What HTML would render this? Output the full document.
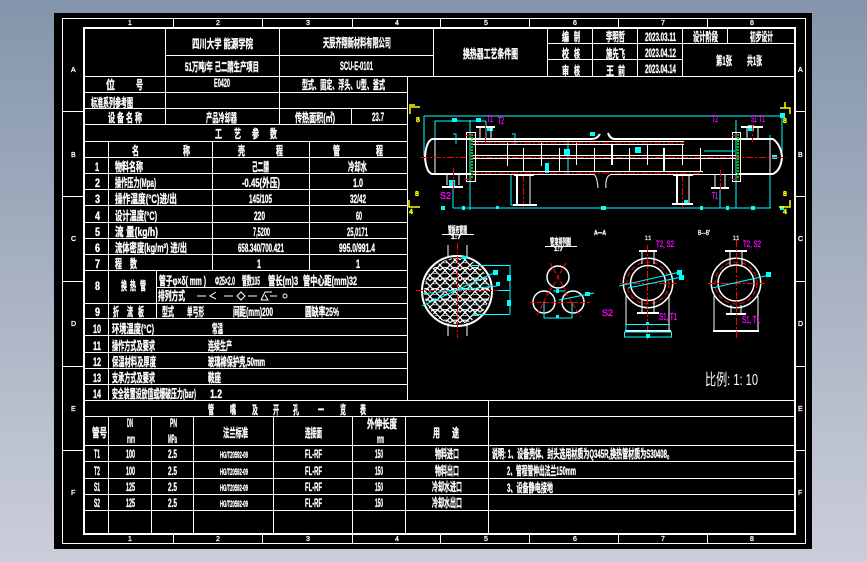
<!DOCTYPE html>
<html lang="zh"><head><meta charset="utf-8"><title>换热器工艺条件图</title>
<style>
html,body{margin:0;padding:0;width:867px;height:562px;overflow:hidden;background:#8a99ad}
svg{display:block}
text{font-family:"Liberation Sans","Noto Sans CJK SC",sans-serif;font-weight:700;fill:#fff;font-size:12px;stroke:#fff;stroke-width:.35}
.m text{fill:#f0f;stroke:#f0f;font-size:10px;font-weight:400}
.y text{fill:#ff0;stroke:#ff0;font-size:7px}
.s text{font-size:7px;font-weight:400}
.g{fill:none;stroke:#fff;stroke-width:1;shape-rendering:crispEdges}
.c{fill:none;stroke:#0ff;stroke-width:1}
.w{fill:none;stroke:#fff;stroke-width:1}
.r{fill:none;stroke:#f00;stroke-width:1;stroke-dasharray:7 2 2 2}
.gr{fill:none;stroke:#0c0;stroke-width:2;stroke-dasharray:2 1}
</style></head><body>
<svg width="867" height="562" viewBox="0 0 867 562" xmlns="http://www.w3.org/2000/svg">
<defs>
<linearGradient id="bg" x1="0" y1="0" x2="0" y2="1"><stop offset="0" stop-color="#8495ab"/><stop offset="1" stop-color="#cbced9"/></linearGradient>
<pattern id="hex" width="10" height="10.5" patternUnits="userSpaceOnUse"><path d="M2.5 0L7.5 0L10 2.6L7.5 5.2L2.5 5.2L0 2.6Z M0 2.6L-2.5 5.2 M2.5 5.2L5 7.8L2.5 10.5 M7.5 5.2L5 7.8 M5 7.8L7.5 10.5 M0 7.8L2.5 5.2 M10 7.8L7.5 5.2" fill="none" stroke="#fff" stroke-width="1.2"/></pattern>
<clipPath id="cp"><circle cx="457" cy="291" r="33"/></clipPath>
</defs>
<rect width="867" height="562" fill="url(#bg)"/>
<rect x="54" y="13" width="758" height="536" fill="#000"/>
<rect x="62.5" y="18.5" width="743" height="525" class="g"/>
<rect x="84" y="28" width="711" height="506" fill="none" stroke="#fff" stroke-width="2" style="shape-rendering:crispEdges"/>
<!-- frame ticks -->
<path class="g" d="M173.500 18V27M262.500 18V27M352.500 18V27M440.500 18V27M529.500 18V27M618.500 18V27M707.500 18V27M173.500 534V543M262.500 534V543M352.500 534V543M440.500 534V543M529.500 534V543M618.500 534V543M707.500 534V543M62 111.500H83M62 196.500H83M62 281.500H83M62 366.500H83M62 450.500H83M796 111.500H805M796 196.500H805M796 281.500H805M796 366.500H805M796 450.500H805"/>
<g class="s">
<text x="128" y="25">1</text><text x="216" y="25">2</text><text x="306" y="25">3</text><text x="395" y="25">4</text><text x="484" y="25">5</text><text x="573" y="25">6</text><text x="661" y="25">7</text><text x="750" y="25">8</text>
<text x="128" y="541">1</text><text x="216" y="541">2</text><text x="306" y="541">3</text><text x="395" y="541">4</text><text x="484" y="541">5</text><text x="573" y="541">6</text><text x="661" y="541">7</text><text x="750" y="541">8</text>
<text x="71" y="72">A</text><text x="71" y="157">B</text><text x="71" y="241">C</text><text x="71" y="326">D</text><text x="71" y="411">E</text><text x="71" y="495">F</text>
<text x="798" y="72">A</text><text x="798" y="157">B</text><text x="798" y="241">C</text><text x="798" y="326">D</text><text x="798" y="411">E</text><text x="798" y="495">F</text>
</g>
<!-- table grid -->
<path class="g" d="M85 76.500H795M165.500 28V124M279.500 28V124M433.500 28V76M165 55.500H433M547.500 28V76M592.500 28V76M637.500 28V76M682.500 28V76M727.500 28V43M547 43.500H795M547 59.500H682
M85 92.500H407M85 108.500H407M85 124.500H407M85 141.500H407M85 157.500H407M85 173.500H407M85 189.500H407M85 205.500H407M85 222.500H407M85 238.500H407M85 254.500H407M85 270.500H407M156 287.500H407M85 303.500H407M85 318.500H407M85 335.500H407M85 352.500H407M85 368.500H407M85 384.500H407M85 400.500H795
M407.500 76V400M351.500 108V124M108.500 141V400M212.500 141V270M309.500 141V270M156.500 270V318
M85 416.500H795M85 445.500H795M85 461.500H795M85 478.500H795M85 494.500H795M85 510.500H795
M108.500 416V534M151.500 416V534M193.500 416V534M273.500 416V534M352.500 416V534M405.500 416V534M488.500 400V534"/>
<!-- title block -->
<text x="192" y="48" textLength="61" lengthAdjust="spacingAndGlyphs">四川大学 能源学院</text>
<text x="323" y="47" textLength="68" lengthAdjust="spacingAndGlyphs">天辰齐翔新材料有限公司</text>
<text x="185" y="71" textLength="74" lengthAdjust="spacingAndGlyphs">51万吨/年 己二腈生产项目</text>
<text x="340" y="70" textLength="33" lengthAdjust="spacingAndGlyphs">SCU-E-0101</text>
<text x="463" y="58" textLength="55" lengthAdjust="spacingAndGlyphs">换热器工艺条件图</text>
<text x="562" y="41" textLength="7" lengthAdjust="spacingAndGlyphs">编</text><text x="574" y="41" textLength="6" lengthAdjust="spacingAndGlyphs">制</text>
<text x="606" y="41" textLength="19" lengthAdjust="spacingAndGlyphs">李明哲</text>
<text x="645" y="41" textLength="31" lengthAdjust="spacingAndGlyphs">2023.03.11</text>
<text x="693" y="41" textLength="25" lengthAdjust="spacingAndGlyphs">设计阶段</text>
<text x="750" y="41" textLength="23" lengthAdjust="spacingAndGlyphs">初步设计</text>
<text x="562" y="58" textLength="7" lengthAdjust="spacingAndGlyphs">校</text><text x="574" y="58" textLength="6" lengthAdjust="spacingAndGlyphs">核</text>
<text x="606" y="58" textLength="19" lengthAdjust="spacingAndGlyphs">施先飞</text>
<text x="645" y="57" textLength="31" lengthAdjust="spacingAndGlyphs">2023.04.12</text>
<text x="562" y="75" textLength="7" lengthAdjust="spacingAndGlyphs">审</text><text x="574" y="75" textLength="6" lengthAdjust="spacingAndGlyphs">核</text>
<text x="606" y="75" textLength="8" lengthAdjust="spacingAndGlyphs">王</text><text x="618" y="75" textLength="7" lengthAdjust="spacingAndGlyphs">前</text>
<text x="645" y="73" textLength="31" lengthAdjust="spacingAndGlyphs">2023.04.14</text>
<text x="716" y="65" textLength="16" lengthAdjust="spacingAndGlyphs">第1张</text>
<text x="747" y="65" textLength="15" lengthAdjust="spacingAndGlyphs">共1张</text>
<text x="106" y="89" textLength="9" lengthAdjust="spacingAndGlyphs">位</text><text x="136" y="89" textLength="7" lengthAdjust="spacingAndGlyphs">号</text>
<text x="214" y="87" textLength="16" lengthAdjust="spacingAndGlyphs">E0420</text>
<text x="302" y="89" textLength="83" lengthAdjust="spacingAndGlyphs">型式、固定、浮头、U型、釜式</text>
<text x="91" y="107" textLength="42" lengthAdjust="spacingAndGlyphs">标准系列参考图</text>
<text x="108" y="122" textLength="7" lengthAdjust="spacingAndGlyphs">设</text><text x="117" y="122" textLength="7" lengthAdjust="spacingAndGlyphs">备</text><text x="126" y="122" textLength="7" lengthAdjust="spacingAndGlyphs">名</text><text x="135" y="122" textLength="7" lengthAdjust="spacingAndGlyphs">称</text>
<text x="206" y="122" textLength="31" lengthAdjust="spacingAndGlyphs">产品冷却器</text>
<text x="295" y="122" textLength="40" lengthAdjust="spacingAndGlyphs">传热面积(㎡)</text>
<text x="372" y="121" textLength="12" lengthAdjust="spacingAndGlyphs">23.7</text>
<text x="215" y="138" textLength="7" lengthAdjust="spacingAndGlyphs">工</text><text x="234" y="138" textLength="7" lengthAdjust="spacingAndGlyphs">艺</text><text x="252" y="138" textLength="7" lengthAdjust="spacingAndGlyphs">参</text><text x="270" y="138" textLength="7" lengthAdjust="spacingAndGlyphs">数</text>
<text x="132" y="155" textLength="7" lengthAdjust="spacingAndGlyphs">名</text><text x="183" y="155" textLength="7" lengthAdjust="spacingAndGlyphs">称</text>
<text x="238" y="155" textLength="7" lengthAdjust="spacingAndGlyphs">壳</text><text x="276" y="155" textLength="7" lengthAdjust="spacingAndGlyphs">程</text>
<text x="333" y="155" textLength="7" lengthAdjust="spacingAndGlyphs">管</text><text x="376" y="155" textLength="7" lengthAdjust="spacingAndGlyphs">程</text>
<!-- rows 1-7 -->
<g>
<text x="95" y="171" textLength="4" lengthAdjust="spacingAndGlyphs">1</text><text x="95" y="187" textLength="5" lengthAdjust="spacingAndGlyphs">2</text><text x="95" y="203" textLength="5" lengthAdjust="spacingAndGlyphs">3</text><text x="95" y="220" textLength="5" lengthAdjust="spacingAndGlyphs">4</text><text x="95" y="236" textLength="5" lengthAdjust="spacingAndGlyphs">5</text><text x="95" y="252" textLength="5" lengthAdjust="spacingAndGlyphs">6</text><text x="95" y="268" textLength="5" lengthAdjust="spacingAndGlyphs">7</text>
<text x="95" y="290" textLength="5" lengthAdjust="spacingAndGlyphs">8</text><text x="95" y="316" textLength="5" lengthAdjust="spacingAndGlyphs">9</text>
<text x="93" y="333" textLength="8" lengthAdjust="spacingAndGlyphs">10</text><text x="93" y="350" textLength="8" lengthAdjust="spacingAndGlyphs">11</text><text x="93" y="366" textLength="8" lengthAdjust="spacingAndGlyphs">12</text><text x="93" y="382" textLength="8" lengthAdjust="spacingAndGlyphs">13</text><text x="93" y="398" textLength="8" lengthAdjust="spacingAndGlyphs">14</text>
<text x="115" y="171" textLength="28" lengthAdjust="spacingAndGlyphs">物料名称</text>
<text x="115" y="187" textLength="41" lengthAdjust="spacingAndGlyphs">操作压力(Mpa)</text>
<text x="115" y="203" textLength="62" lengthAdjust="spacingAndGlyphs">操作温度(°C)进/出</text>
<text x="115" y="220" textLength="42" lengthAdjust="spacingAndGlyphs">设计温度(°C)</text>
<text x="115" y="236" textLength="43" lengthAdjust="spacingAndGlyphs">流 量(kg/h)</text>
<text x="115" y="252" textLength="72" lengthAdjust="spacingAndGlyphs">流体密度(kg/m³) 进/出</text>
<text x="115" y="268" textLength="7" lengthAdjust="spacingAndGlyphs">程</text><text x="130" y="268" textLength="7" lengthAdjust="spacingAndGlyphs">数</text>
<text x="252" y="171" textLength="17" lengthAdjust="spacingAndGlyphs">己二腈</text>
<text x="242" y="187" textLength="38" lengthAdjust="spacingAndGlyphs">-0.45(外压)</text>
<text x="249" y="203" textLength="23" lengthAdjust="spacingAndGlyphs">145/105</text>
<text x="254" y="220" textLength="11" lengthAdjust="spacingAndGlyphs">220</text>
<text x="253" y="236" textLength="17" lengthAdjust="spacingAndGlyphs">7,5200</text>
<text x="238" y="252" textLength="46" lengthAdjust="spacingAndGlyphs">658.340/700.421</text>
<text x="257" y="268" textLength="4" lengthAdjust="spacingAndGlyphs">1</text>
<text x="348" y="171" textLength="19" lengthAdjust="spacingAndGlyphs">冷却水</text>
<text x="353" y="187" textLength="10" lengthAdjust="spacingAndGlyphs">1.0</text>
<text x="350" y="203" textLength="16" lengthAdjust="spacingAndGlyphs">32/42</text>
<text x="356" y="220" textLength="6" lengthAdjust="spacingAndGlyphs">60</text>
<text x="347" y="236" textLength="21" lengthAdjust="spacingAndGlyphs">25,0171</text>
<text x="339" y="252" textLength="36" lengthAdjust="spacingAndGlyphs">995.0/991.4</text>
<text x="356" y="268" textLength="4" lengthAdjust="spacingAndGlyphs">1</text>
<!-- rows 8-14 -->
<text x="121" y="290" textLength="6" lengthAdjust="spacingAndGlyphs">换</text><text x="130" y="290" textLength="6" lengthAdjust="spacingAndGlyphs">热</text><text x="140" y="290" textLength="6" lengthAdjust="spacingAndGlyphs">管</text>
<text x="159" y="285" textLength="47" lengthAdjust="spacingAndGlyphs">管子φ×δ( mm )</text>
<text x="215" y="285" textLength="20" lengthAdjust="spacingAndGlyphs">Φ25×2.0</text>
<text x="242" y="285" textLength="18" lengthAdjust="spacingAndGlyphs">管数105</text>
<text x="268" y="285" textLength="30" lengthAdjust="spacingAndGlyphs">管长(m)3</text>
<text x="303" y="285" textLength="54" lengthAdjust="spacingAndGlyphs">管中心距(mm)32</text>
<text x="158" y="300" textLength="27" lengthAdjust="spacingAndGlyphs">排列方式</text>
<text x="113" y="316" textLength="6" lengthAdjust="spacingAndGlyphs">折</text><text x="127" y="316" textLength="6" lengthAdjust="spacingAndGlyphs">流</text><text x="138" y="316" textLength="6" lengthAdjust="spacingAndGlyphs">板</text>
<text x="162" y="316" textLength="12" lengthAdjust="spacingAndGlyphs">型式</text>
<text x="187" y="316" textLength="17" lengthAdjust="spacingAndGlyphs">单弓形</text>
<text x="233" y="316" textLength="40" lengthAdjust="spacingAndGlyphs">间距(mm)200</text>
<text x="305" y="316" textLength="34" lengthAdjust="spacingAndGlyphs">圆缺率25%</text>
<text x="112" y="333" textLength="42" lengthAdjust="spacingAndGlyphs">环境温度(°C)</text>
<text x="212" y="333" textLength="11" lengthAdjust="spacingAndGlyphs">常温</text>
<text x="112" y="350" textLength="43" lengthAdjust="spacingAndGlyphs">操作方式及要求</text>
<text x="208" y="350" textLength="24" lengthAdjust="spacingAndGlyphs">连续生产</text>
<text x="112" y="366" textLength="44" lengthAdjust="spacingAndGlyphs">保温材料及厚度</text>
<text x="208" y="366" textLength="57" lengthAdjust="spacingAndGlyphs">玻璃棉保护壳,50mm</text>
<text x="112" y="382" textLength="43" lengthAdjust="spacingAndGlyphs">支承方式及要求</text>
<text x="208" y="382" textLength="13" lengthAdjust="spacingAndGlyphs">鞍座</text>
<text x="112" y="398" textLength="84" lengthAdjust="spacingAndGlyphs">安全装置设放值或爆破压力(bar)</text>
<text x="210" y="398" textLength="12" lengthAdjust="spacingAndGlyphs">1.2</text>
</g>
<path class="w" d="M197 296H206M216 292L210 296L216 299M224 296H233M237 296L241 292L245 296L241 300ZM248 296H257M261 300L265 292L272 292M261 300H268L265 295M270 296H277"/>
<circle cx="285" cy="296" r="2" class="w"/>
<!-- nozzle table -->
<text x="208" y="414" textLength="6" lengthAdjust="spacingAndGlyphs">管</text><text x="230" y="414" textLength="6" lengthAdjust="spacingAndGlyphs">嘴</text><text x="252" y="414" textLength="6" lengthAdjust="spacingAndGlyphs">及</text><text x="273" y="414" textLength="6" lengthAdjust="spacingAndGlyphs">开</text><text x="293" y="414" textLength="6" lengthAdjust="spacingAndGlyphs">孔</text><text x="318" y="414" textLength="6" lengthAdjust="spacingAndGlyphs">一</text><text x="340" y="414" textLength="6" lengthAdjust="spacingAndGlyphs">览</text><text x="360" y="414" textLength="6" lengthAdjust="spacingAndGlyphs">表</text>
<text x="92" y="437" textLength="15" lengthAdjust="spacingAndGlyphs">管号</text>
<text x="127" y="427" textLength="6" lengthAdjust="spacingAndGlyphs">DN</text><text x="127" y="443" textLength="8" lengthAdjust="spacingAndGlyphs">mm</text>
<text x="170" y="427" textLength="7" lengthAdjust="spacingAndGlyphs">PN</text><text x="168" y="443" textLength="9" lengthAdjust="spacingAndGlyphs">MPa</text>
<text x="223" y="437" textLength="25" lengthAdjust="spacingAndGlyphs">法兰标准</text>
<text x="305" y="437" textLength="17" lengthAdjust="spacingAndGlyphs">连接面</text>
<text x="367" y="428" textLength="30" lengthAdjust="spacingAndGlyphs">外伸长度</text><text x="377" y="443" textLength="7" lengthAdjust="spacingAndGlyphs">mm</text>
<text x="433" y="437" textLength="7" lengthAdjust="spacingAndGlyphs">用</text><text x="452" y="437" textLength="7" lengthAdjust="spacingAndGlyphs">途</text>
<text x="94" y="458" textLength="6" lengthAdjust="spacingAndGlyphs">T1</text><text x="126" y="458" textLength="9" lengthAdjust="spacingAndGlyphs">100</text><text x="168" y="458" textLength="9" lengthAdjust="spacingAndGlyphs">2.5</text><text x="220" y="458" textLength="28" lengthAdjust="spacingAndGlyphs" style="font-size:9px">HG/T20592-09</text><text x="305" y="458" textLength="17" lengthAdjust="spacingAndGlyphs">FL-RF</text><text x="375" y="458" textLength="8" lengthAdjust="spacingAndGlyphs">150</text><text x="435" y="458" textLength="24" lengthAdjust="spacingAndGlyphs">物料进口</text>
<text x="94" y="475" textLength="6" lengthAdjust="spacingAndGlyphs">T2</text><text x="126" y="475" textLength="9" lengthAdjust="spacingAndGlyphs">100</text><text x="168" y="475" textLength="9" lengthAdjust="spacingAndGlyphs">2.5</text><text x="220" y="475" textLength="28" lengthAdjust="spacingAndGlyphs" style="font-size:9px">HG/T20592-09</text><text x="305" y="475" textLength="17" lengthAdjust="spacingAndGlyphs">FL-RF</text><text x="375" y="475" textLength="8" lengthAdjust="spacingAndGlyphs">150</text><text x="435" y="475" textLength="24" lengthAdjust="spacingAndGlyphs">物料出口</text>
<text x="94" y="491" textLength="6" lengthAdjust="spacingAndGlyphs">S1</text><text x="126" y="491" textLength="9" lengthAdjust="spacingAndGlyphs">125</text><text x="168" y="491" textLength="9" lengthAdjust="spacingAndGlyphs">2.5</text><text x="220" y="491" textLength="28" lengthAdjust="spacingAndGlyphs" style="font-size:9px">HG/T20592-09</text><text x="305" y="491" textLength="17" lengthAdjust="spacingAndGlyphs">FL-RF</text><text x="375" y="491" textLength="8" lengthAdjust="spacingAndGlyphs">150</text><text x="432" y="491" textLength="30" lengthAdjust="spacingAndGlyphs">冷却水进口</text>
<text x="94" y="507" textLength="6" lengthAdjust="spacingAndGlyphs">S2</text><text x="126" y="507" textLength="9" lengthAdjust="spacingAndGlyphs">125</text><text x="168" y="507" textLength="9" lengthAdjust="spacingAndGlyphs">2.5</text><text x="220" y="507" textLength="28" lengthAdjust="spacingAndGlyphs" style="font-size:9px">HG/T20592-09</text><text x="305" y="507" textLength="17" lengthAdjust="spacingAndGlyphs">FL-RF</text><text x="375" y="507" textLength="8" lengthAdjust="spacingAndGlyphs">150</text><text x="432" y="507" textLength="30" lengthAdjust="spacingAndGlyphs">冷却水出口</text>
<text x="492" y="458" textLength="181" lengthAdjust="spacingAndGlyphs">说明: 1、设备壳体、封头选用材质为Q345R,换热管材质为S30408。</text>
<text x="507" y="475" textLength="69" lengthAdjust="spacingAndGlyphs">2、管程管伸出法兰150mm</text>
<text x="507" y="492" textLength="46" lengthAdjust="spacingAndGlyphs">3、设备静电接地</text>
<text x="705" y="385" textLength="53" lengthAdjust="spacingAndGlyphs" style="font-size:16px;font-weight:400;stroke-width:0">比例: 1: 10</text>
<!-- main view: cyan dims -->
<path class="c" d="M424 116H782M424 116V156M782 116V158M435 121H486M435 121V146M486 121V140M453 208H771M453 185V208M470 120V210M736 120V208M770 135V208M568 140V175M511 175V205M511 205H536M704 151H735M720 190V208M453 134H456V144M512 134H515V145"/>
<path d="M452 118h5v4h-5zM476 118h5v4h-5zM780 113h5v5h-5zM441 206h4v4h-4zM462 206h3v4h-3zM496 206h3v3h-3zM780 206h4v4h-4zM601 206h5v4h-5zM700 206h3v4h-3zM726 206h3v4h-3zM751 206h4v4h-4zM564 149h6v6h-6zM635 147h6v6h-6zM487 126h6v5h-6zM449 180h6v6h-6zM545 163h4v10h-4zM590 132h5v4h-5zM772 155h5v4h-5zM684 200h4v5h-4zM748 125h6v6h-6z" fill="#0ff"/>
<!-- vessel -->
<path d="M471 139H432Q426 142 425 157Q426 172 432 174H471" fill="none" stroke="#fff" stroke-width="2"/>
<path d="M736 139H773Q781 145 782 157Q781 170 773 174H736" fill="none" stroke="#fff" stroke-width="2"/>
<path class="w" d="M435 139V174M770 139V174"/>
<path d="M471 139H592Q597 139 600 134M608 133Q610 139 615 139H736" fill="none" stroke="#fff" stroke-width="2"/>
<path d="M471 174.500H594Q597 176 598 188M606 188Q605 176 611 174.500H736" fill="none" stroke="#fff" stroke-width="1"/>
<path d="M471 141.500H684M471 144.500H684M471 155.500H736M471 158.500H736M471 171.500H703" fill="none" stroke="#fff" stroke-width="1"/>
<path class="r" d="M421 157.500H786M472 143H684M472 173H703"/>
<path class="w" d="M507.500 143V166M523.500 148V172M541.500 143V166M559.500 148V172M576.500 143V165M594.500 148V172M629.500 148V172M647.500 144V165M682.500 144V165M700.500 148V172"/>
<path d="M612 144V165M664 148V172" stroke="#fff" stroke-width="2" fill="none"/>
<!-- tube sheets -->
<rect x="466.500" y="132.500" width="9" height="49" class="w"/><rect x="732.500" y="132.500" width="8" height="49" class="w"/>
<path class="gr" d="M472 134V179M738 134V179"/>
<!-- nozzles -->
<path class="w" d="M480 127V139M491 127V139M747 127V139M758 127V139M447 185V174M459 185V174M715 187V174M725 187V174"/>
<path d="M476 127H495M741 127H763M442 187H463M711 188H729" stroke="#fff" stroke-width="2" fill="none"/>
<path class="r" d="M485.500 125V142M752.500 125V142M453.500 168V191M720.500 170V190M465 135.500H475M465 179.500H475M732 135.500H740M732 179.500H740M523.500 175V209M682.500 175V209"/>
<!-- saddles -->
<path d="M517 175V205M677 175V204M514 175H534M673 175H693M513 205H537M672 204H693" stroke="#fff" stroke-width="2" fill="none"/>
<path class="w" d="M530 175V205M689 175V204"/>
<g class="m">
<text x="487" y="122" textLength="6" lengthAdjust="spacingAndGlyphs">T1</text><text x="498" y="124" textLength="6" lengthAdjust="spacingAndGlyphs">T2</text><text x="712" y="122" textLength="6" lengthAdjust="spacingAndGlyphs">T2</text><text x="751" y="122" textLength="6" lengthAdjust="spacingAndGlyphs">S1</text><text x="759" y="122" textLength="6" lengthAdjust="spacingAndGlyphs">T1</text><text x="440" y="199" textLength="11" lengthAdjust="spacingAndGlyphs">S2</text><text x="712" y="199" textLength="6" lengthAdjust="spacingAndGlyphs">T1</text>
</g>
<g class="y">
<path d="M410 114V105H415M411 107H420M780 108H790V114M785 102V108M409 200V207H420M790 200V207H779" stroke="#ff0" fill="none" stroke-width="1.500"/>
<text x="416" y="122">8</text><text x="415" y="196">8</text><text x="783" y="123">8</text><text x="783" y="196">8</text>
<text x="409" y="214">4</text><text x="783" y="214">4</text>
</g>
<!-- left section -->
<circle cx="457" cy="291" r="33" fill="url(#hex)" clip-path="url(#cp)"/>
<circle cx="457" cy="291" r="35" fill="none" stroke="#fff" stroke-width="2"/>
<path class="w" d="M448 245V258M467 245V258M448 323V336M467 323V336"/>
<path class="r" d="M457.500 243V338M416 290.500H500"/>
<path class="c" d="M422 306L496 272M421 294L497 286M472 265.500H510M510 265V314M472 314.500H510M498 290.500H510"/>
<path d="M507 275h4v6h-4zM507 300h4v6h-4zM493 270h5v5h-5zM496 282h4v4h-4zM462 256h5v3h-5z" fill="#0ff"/>
<text x="448" y="233" textLength="19" lengthAdjust="spacingAndGlyphs" style="font-size:9px">管板布管图</text>
<path class="w" d="M442 234.500H474"/>
<text x="451" y="239" textLength="10" lengthAdjust="spacingAndGlyphs" style="font-size:6px">1:7</text>
<!-- middle section -->
<text x="550" y="245" textLength="21" lengthAdjust="spacingAndGlyphs" style="font-size:9px">管束排列图</text>
<path class="w" d="M545 246.500H577"/>
<text x="554" y="251" textLength="9" lengthAdjust="spacingAndGlyphs" style="font-size:6px">1:7</text>
<text x="594" y="235" textLength="12" lengthAdjust="spacingAndGlyphs" style="font-size:7px">A—A</text>
<g fill="none" stroke="#fff" stroke-width="1.500">
<circle cx="558" cy="277" r="11"/><circle cx="544" cy="302" r="11"/><circle cx="573" cy="302" r="11"/></g>
<path class="r" d="M550 263L566 291M566 263L550 291M530 302.500H559M559 302.500H590M549 292L536 317M565 292L581 317" style="stroke-dasharray:5 2"/>
<path class="c" d="M544 302V318H572V302M559 300L594 293M553 291H565"/>
<path d="M585 292h5v4h-5zM556 315h3v3h-3zM556 289h3v4h-3z" fill="#0ff"/>
<g class="m"><text x="602" y="316" style="font-size:9px">S2</text></g>
<!-- right sections -->
<g fill="none" stroke="#fff">
<circle cx="648" cy="283" r="24.700" stroke-width="1.500"/><circle cx="648" cy="283" r="17.500" stroke-width="1.500"/>
<circle cx="736" cy="283" r="24.700" stroke-width="1.500"/><circle cx="736" cy="283" r="18" stroke-width="1.500"/>
</g>
<circle cx="648" cy="283" r="21" fill="none" stroke="#f00" stroke-dasharray="5 3"/>
<circle cx="736" cy="283" r="21" fill="none" stroke="#f00" stroke-dasharray="5 3"/>
<path class="w" d="M642 251V264M654 251V264M642 300V314M654 300V314M626 294V331M669 294V331M730 251V265M742 251V265M731 305V315M741 305V315M714 296V331M758 296V331"/>
<path d="M639 251H657M637 313H659M625 331H671M725 251H747M726 314H746M713 331H759" stroke="#fff" stroke-width="2" fill="none"/>
<path class="r" d="M647.500 245V340M620 283.500H677M736.500 240V340M708 283.500H765"/>
<path class="c" d="M619 286L680 272M628 288L682 277M712 288L770 275M626 324.500H670M626 325V332"/>
<rect x="624.500" y="332" width="47" height="5" fill="none" stroke="#0ff"/>
<path d="M677 270h5v5h-5zM679 275h5v5h-5zM766 272h5v5h-5zM646 334h4v4h-4zM646 322h3v3h-3z" fill="#0ff"/>
<g class="m">
<text x="656" y="247" textLength="18" lengthAdjust="spacingAndGlyphs" style="font-size:9px">T2, S2</text>
<text x="659" y="320" style="font-size:10px" textLength="18" lengthAdjust="spacingAndGlyphs">S1, T1</text>
<text x="743" y="247" textLength="18" lengthAdjust="spacingAndGlyphs" style="font-size:9px">T2, S2</text>
<text x="742" y="323" style="font-size:10px" textLength="18" lengthAdjust="spacingAndGlyphs">S1, T1</text>
</g>
<text x="698" y="235" textLength="12" lengthAdjust="spacingAndGlyphs" style="font-size:7px;font-weight:400">B—B'</text>
<text x="645" y="240" textLength="6" lengthAdjust="spacingAndGlyphs" style="font-size:6px;font-weight:400">1:1</text>
<text x="733" y="240" textLength="6" lengthAdjust="spacingAndGlyphs" style="font-size:6px;font-weight:400">1:1</text>
</svg>
</body></html>
